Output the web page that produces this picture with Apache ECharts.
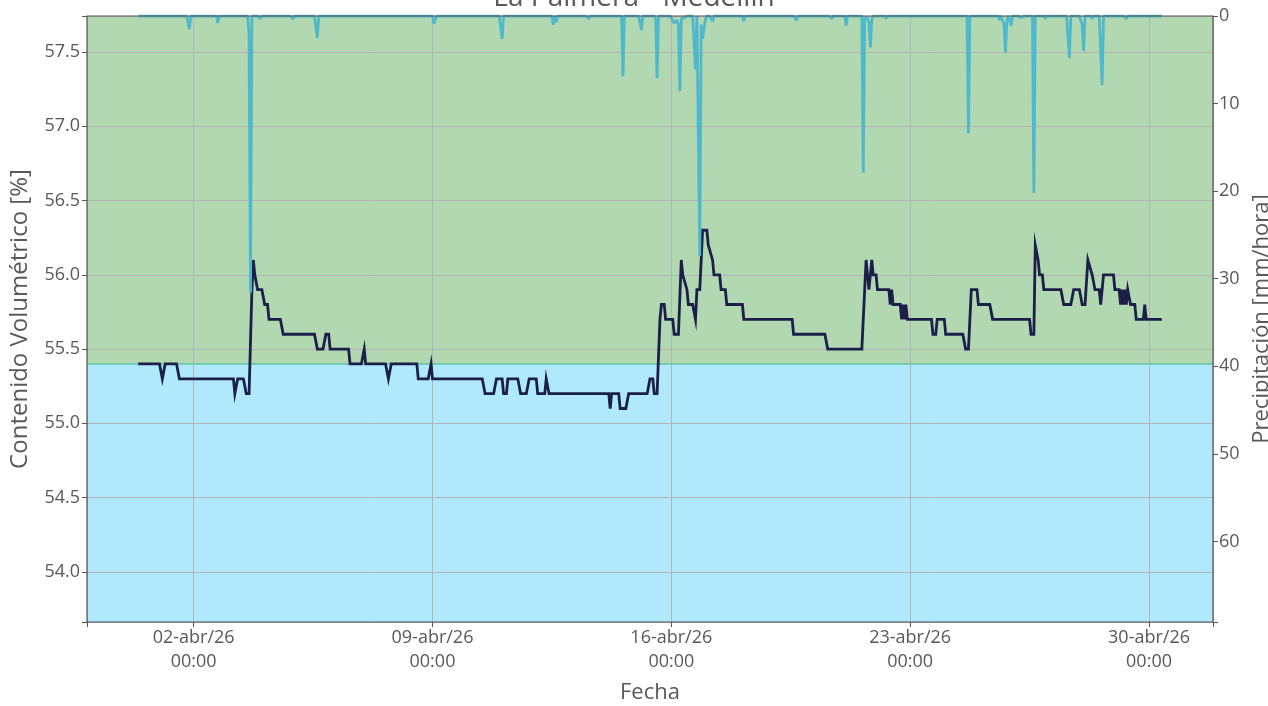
<!DOCTYPE html>
<html>
<head>
<meta charset="utf-8">
<script src="https://cdn.jsdelivr.net/npm/echarts@6/dist/echarts.min.js"></script>
<style>
  html, body { margin: 0; padding: 0; background: #ffffff; }
  #chart { width: 1268px; height: 706px; }
</style>
</head>
<body>
<div id="chart"></div>
<script>
// Time unit: hours since 2026-03-31 00:00
const START_UTC = Date.UTC(2026, 2, 31, 0, 0);
const X_MIN_HOUR = -27;
const X_MAX_HOUR = 765;
const TICK_ORIGIN_HOUR = 48;      // 02-abr/26 00:00
const HOURS_PER_WEEK = 168;
const MONTHS_ES = ['ene','feb','mar','abr','may','jun','jul','ago','sep','oct','nov','dic'];

const titleText = 'La Palmera - Medellín';
const yLeftName = 'Contenido Volumétrico [%]';
const yRightName = 'Precipitación [mm/hora]';
const xName = 'Fecha';

const yLeftMin = 53.663;
const yLeftMax = 57.742;
const yRightMin = 0;
const yRightMax = 69.2;
const threshold = 55.4;

// Soil moisture (vertices of the hourly series)
const moistHour = [9,24,26,28,36,38,76,77,79,83,85,87,89,90,91,93,96,98,100,101,109,111,133,135,139,141,143,144,157,158,166,168,169,183,185,187,205,206,213,215,216,251,253,259,261,265,266,268,269,276,278,282,284,289,290,295,296,298,340,341,342,347,348,352,354,367,369,371,372,374,376,377,379,380,385,386,389,391,392,393,395,396,399,401,402,404,406,409,410,411,413,414,418,419,422,423,434,435,469,470,492,494,518,521,522,523,525,526,528,529,537,538,539,540,545,546,547,548,549,550,567,568,570,571,576,577,589,591,593,595,599,600,608,610,636,637,639,640,641,642,643,645,646,658,660,665,667,671,673,675,677,678,680,681,682,685,686,688,695,696,699,700,701,702,703,704,705,707,710,711,716,717,718,729];
const moistValue = [55.4,55.4,55.3,55.4,55.4,55.3,55.3,55.2,55.3,55.3,55.2,55.2,55.9,56.1,56.0,55.9,55.9,55.8,55.8,55.7,55.7,55.6,55.6,55.5,55.5,55.6,55.6,55.5,55.5,55.4,55.4,55.5,55.4,55.4,55.3,55.4,55.4,55.3,55.3,55.4,55.3,55.3,55.2,55.2,55.3,55.3,55.2,55.2,55.3,55.3,55.2,55.2,55.3,55.3,55.2,55.2,55.3,55.2,55.2,55.1,55.2,55.2,55.1,55.1,55.2,55.2,55.3,55.3,55.2,55.2,55.7,55.8,55.8,55.7,55.7,55.6,55.6,56.1,56.0,56.0,55.9,55.8,55.8,55.7,55.9,55.9,56.3,56.3,56.2,56.2,56.1,56.0,56.0,55.9,55.9,55.8,55.8,55.7,55.7,55.6,55.6,55.5,55.5,56.1,56.0,55.9,56.1,56.0,56.0,55.9,55.9,55.8,55.9,55.8,55.8,55.7,55.8,55.7,55.8,55.7,55.7,55.6,55.6,55.7,55.7,55.6,55.6,55.5,55.5,55.9,55.9,55.8,55.8,55.7,55.7,55.6,55.6,56.2,56.2,56.1,56.0,56.0,55.9,55.9,55.8,55.8,55.9,55.9,55.8,55.8,56.1,56.1,56.0,56.0,55.9,55.9,55.8,56.0,56.0,55.9,55.9,55.8,55.9,55.8,55.9,55.8,55.9,55.8,55.8,55.7,55.7,55.8,55.7,55.7];

// Precipitation (hourly, zero except these hours)
const precipFirstHour = 9;
const precipLastHour = 729;
const precipHour = [45,65,87,88,95,118,135,217,218,265,301,303,326,350,363,373,374,385,386,387,388,389,390,391,392,393,401,404,405,406,407,408,413,435,472,497,507,519,520,522,523,524,525,535,593,615,618,619,620,623,630,639,647,664,673,674,680,687,704];
const precipValue = [1.5,0.8,2.0,31.6,0.3,0.3,2.5,0.9,0.7,2.6,1.0,0.7,0.3,6.9,1.6,0.4,7.1,0.5,0.8,0.8,0.5,1.0,8.6,0.3,0.5,0.2,6.1,27.4,1.0,2.6,1.3,0.4,0.6,0.6,0.5,0.3,1.1,17.9,0.2,0.2,0.8,3.6,0.4,0.3,13.4,0.5,1.0,4.2,0.5,1.1,0.2,20.2,0.3,4.8,1.0,4.0,0.3,7.9,0.3];

const toWeek = h => (h - TICK_ORIGIN_HOUR) / HOURS_PER_WEEK;

const moistData = moistHour.map((h, i) => [toWeek(h), moistValue[i]]);
const precipMap = {};
precipHour.forEach((h, i) => { precipMap[h] = precipValue[i]; });
const precipData = [];
for (let h = precipFirstHour; h <= precipLastHour; h++) {
  precipData.push([toWeek(h), precipMap[h] !== undefined ? precipMap[h] : 0]);
}

const FONT = '"Open Sans"';
const TXT = '#595959';
const isMult = (v, step) => Math.abs(v / step - Math.round(v / step)) < 1e-6;

function xLabel(w) {
  if (!isMult(w, 1)) return '';
  const d = new Date(START_UTC + (TICK_ORIGIN_HOUR + w * HOURS_PER_WEEK) * 3600e3);
  const dd = String(d.getUTCDate()).padStart(2, '0');
  const yy = String(d.getUTCFullYear()).slice(2);
  const hh = String(d.getUTCHours()).padStart(2, '0');
  const mm = String(d.getUTCMinutes()).padStart(2, '0');
  return dd + '-' + MONTHS_ES[d.getUTCMonth()] + '/' + yy + '\n' + hh + ':' + mm;
}

const chart = echarts.init(document.getElementById('chart'), null, { renderer: 'canvas' });
chart.setOption({
  animation: false,
  backgroundColor: '#ffffff',
  textStyle: { fontFamily: FONT },
  title: {
    text: titleText,
    left: 'center',
    top: -21,
    textStyle: { fontFamily: FONT, fontSize: 28, fontWeight: 'normal', color: TXT }
  },
  grid: {
    left: 87, right: 55, top: 16, bottom: 84,
    outerBoundsMode: 'none',
    containLabel: false,
    show: true, borderColor: '#555555', borderWidth: 1.2,
    backgroundColor: 'transparent', z: 5
  },
  xAxis: {
    type: 'value',
    min: toWeek(X_MIN_HOUR),
    max: toWeek(X_MAX_HOUR),
    splitNumber: 5,
    name: xName,
    nameLocation: 'middle',
    nameGap: 60,
    nameTextStyle: { fontFamily: FONT, fontSize: 22, color: TXT },
    axisLine: { show: false, onZero: false },
    axisTick: { show: true, length: 5, lineStyle: { color: '#555555' } },
    axisLabel: { formatter: xLabel, fontFamily: FONT, fontSize: 18, color: TXT, lineHeight: 24, margin: 4 },
    splitLine: { show: true, lineStyle: { color: '#b4b4b4', width: 1 } }
  },
  yAxis: [
    {
      type: 'value',
      min: yLeftMin, max: yLeftMax,
      splitNumber: 8,
      name: yLeftName,
      nameLocation: 'middle',
      nameRotate: 90,
      nameGap: 55,
      nameTextStyle: { fontFamily: FONT, fontSize: 24, color: TXT },
      axisLine: { show: false, onZero: false },
      axisTick: { show: true, length: 5, lineStyle: { color: '#555555' } },
      axisLabel: { formatter: v => isMult(v, 0.5) ? v.toFixed(1) : '', fontFamily: FONT, fontSize: 18, color: TXT, margin: 7 },
      splitLine: { show: true, lineStyle: { color: '#b4b4b4', width: 1 } }
    },
    {
      type: 'value',
      position: 'right',
      inverse: true,
      min: yRightMin, max: yRightMax,
      splitNumber: 7,
      name: yRightName,
      nameLocation: 'middle',
      nameRotate: 90,
      nameGap: 31,
      nameTextStyle: { fontFamily: FONT, fontSize: 22, color: TXT },
      axisLine: { show: false, onZero: false },
      axisTick: { show: true, length: 5, lineStyle: { color: '#555555' } },
      axisLabel: { formatter: v => isMult(v, 10) ? String(Math.round(v)) : '', fontFamily: FONT, fontSize: 18, color: TXT, margin: 6 },
      splitLine: { show: false }
    }
  ],
  series: [
    {
      name: 'fondo',
      type: 'line',
      data: [],
      z: -1,
      silent: true,
      markArea: {
        silent: true,
        z: -1,
        data: [
          [{ yAxis: yLeftMin, itemStyle: { color: '#b0e9fc' } }, { yAxis: threshold }],
          [{ yAxis: threshold, itemStyle: { color: '#b1d8b0' } }, { yAxis: yLeftMax }]
        ]
      },
      markLine: {
        silent: true,
        z: 1,
        symbol: 'none',
        label: { show: false },
        lineStyle: { color: '#62c4a2', width: 1.5, type: 'solid' },
        data: [{ yAxis: threshold }]
      }
    },
    {
      name: 'Contenido Volumétrico',
      type: 'line',
      xAxisIndex: 0,
      yAxisIndex: 0,
      data: moistData,
      showSymbol: false,
      z: 3,
      lineStyle: { color: '#1c1f4a', width: 2.8, join: 'miter' }
    },
    {
      name: 'Precipitación',
      type: 'line',
      xAxisIndex: 0,
      yAxisIndex: 1,
      data: precipData,
      showSymbol: false,
      z: 4,
      clip: true,
      lineStyle: { color: '#4fb8cb', width: 2.8 }
    }
  ]
});
</script>
</body>
</html>
